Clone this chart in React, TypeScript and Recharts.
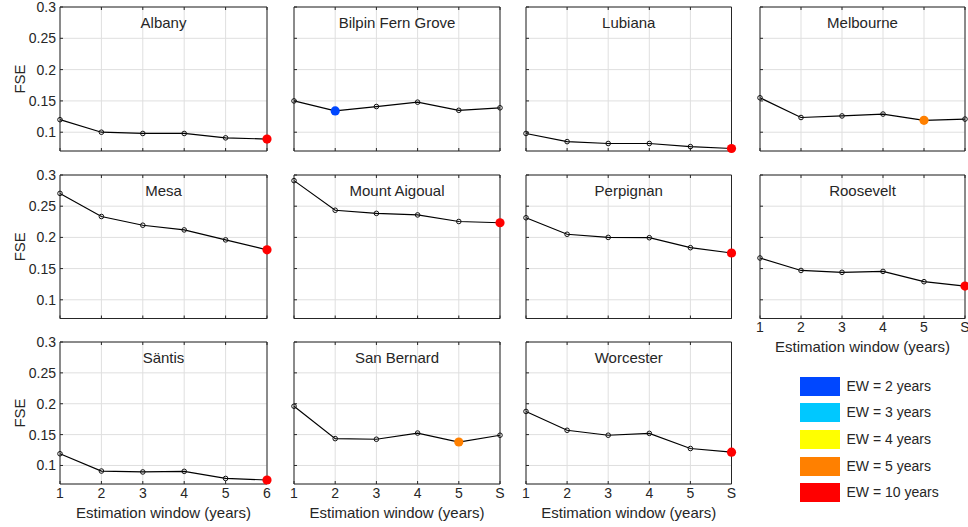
import React from 'react';
import { LineChart, Line, XAxis, YAxis, CartesianGrid, Label } from 'recharts';

// ---------- data ----------
const windows = [1, 2, 3, 4, 5, 6];
const xTickLabels = ['1', '2', '3', '4', '5', 'S'];
const santisTickLabels = ['1', '2', '3', '4', '5', '6'];
const yTicks = [0.1, 0.15, 0.2, 0.25, 0.3];

const albany = [0.12, 0.1, 0.098, 0.098, 0.091, 0.089];
const bilpin = [0.15, 0.134, 0.141, 0.148, 0.135, 0.139];
const lubiana = [0.098, 0.085, 0.082, 0.082, 0.077, 0.074];
const melbourne = [0.155, 0.1235, 0.126, 0.129, 0.119, 0.121];
const mesa = [0.2705, 0.2335, 0.2195, 0.212, 0.196, 0.18];
const mountAigoual = [0.291, 0.2435, 0.2385, 0.236, 0.2255, 0.2235];
const perpignan = [0.2315, 0.205, 0.2, 0.1995, 0.1835, 0.175];
const roosevelt = [0.167, 0.147, 0.144, 0.1455, 0.129, 0.122];
const santis = [0.119, 0.091, 0.0895, 0.0905, 0.079, 0.0765];
const sanBernard = [0.196, 0.1435, 0.1425, 0.1525, 0.138, 0.149];
const worcester = [0.1875, 0.157, 0.149, 0.152, 0.1275, 0.1215];

const stationNames = [
  'Albany', 'Bilpin Fern Grove', 'Lubiana', 'Melbourne',
  'Mesa', 'Mount Aigoual', 'Perpignan', 'Roosevelt',
  'Säntis', 'San Bernard', 'Worcester',
];
const stationValues = [
  albany, bilpin, lubiana, melbourne,
  mesa, mountAigoual, perpignan, roosevelt,
  santis, sanBernard, worcester,
];
// index of the best estimation window and its EW colour class
const bestIndex = [5, 1, 5, 4, 5, 5, 5, 5, 5, 4, 5];
const bestClass = [4, 0, 4, 3, 4, 4, 4, 4, 4, 3, 4];

const ewLabels = ['EW = 2 years', 'EW = 3 years', 'EW = 4 years', 'EW = 5 years', 'EW = 10 years'];
const ewColors = ['#0047ff', '#00c8ff', '#ffff00', '#ff8000', '#ff0000'];

// ---------- layout ----------
const colLeft = [59.5, 293.5, 526, 759.5];
const colWidth = [207, 206, 205.5, 205];
const rowTop = [7, 175, 342];
const rowHeight = [144, 143.5, 142];

const FONT = '"Liberation Sans", Arial, Helvetica, sans-serif';
const TEXT = '#262626';
const AXIS = '#262626';
const GRID = '#dfdfdf';

type PanelProps = {
  idx: number;
  row: number;
  col: number;
  showX: boolean;
  showY: boolean;
  xLabels: string[];
};

function Panel({ idx, row, col, showX, showY, xLabels }: PanelProps) {
  const W = colWidth[col];
  const H = rowHeight[row];
  const values = stationValues[idx];
  const data = windows.map((w, i) => ({ w, v: values[i] }));
  const best = bestIndex[idx];
  const color = ewColors[bestClass[idx]];
  const name = stationNames[idx];

  const renderDot = (p: any) => {
    const { cx, cy, index } = p;
    if (index === best) {
      return <circle key={`d${index}`} cx={cx} cy={cy} r={4.6} fill={color} stroke="none" />;
    }
    return (
      <circle key={`d${index}`} cx={cx} cy={cy} r={2.3} fill="none" stroke="#111" strokeWidth={1} />
    );
  };

  const axisCommon = {
    axisLine: { stroke: AXIS, strokeWidth: 1 },
    tickLine: { stroke: AXIS, strokeWidth: 1 },
    tickSize: -3,
    tickMargin: 7,
  };

  return (
    <div style={{ position: 'absolute', left: colLeft[col] - 60, top: rowTop[row] - 10 }}>
      <LineChart
        width={W + 70}
        height={H + 60}
        data={data}
        margin={{ top: 9, right: 9, left: 0, bottom: 0 }}
      >
        <CartesianGrid stroke={GRID} strokeWidth={1} />
        <XAxis
          dataKey="w"
          type="number"
          domain={[1, 6]}
          ticks={windows}
          interval={0}
          height={50}
          tickFormatter={(v: number) => (showX ? xLabels[v - 1] : '')}
          tick={{ fill: TEXT, fontSize: 14, fontFamily: FONT }}
          {...axisCommon}
        >
          {showX && (
            <Label
              content={(p: any) => {
                const vb = p.viewBox;
                return (
                  <text
                    x={vb.x + vb.width / 2}
                    y={vb.y + 33.5}
                    textAnchor="middle"
                    fill={TEXT}
                    fontSize={15}
                    fontFamily={FONT}
                  >
                    Estimation window (years)
                  </text>
                );
              }}
            />
          )}
        </XAxis>
        <XAxis
          xAxisId="top"
          orientation="top"
          type="number"
          domain={[1, 6]}
          ticks={windows}
          interval={0}
          height={1}
          tickFormatter={() => ''}
          {...axisCommon}
        />
        <YAxis
          type="number"
          domain={[0.07, 0.3]}
          ticks={yTicks}
          interval={0}
          width={60}
          tickFormatter={(v: number) => (showY ? String(v) : '')}
          tick={{ fill: TEXT, fontSize: 14, fontFamily: FONT }}
          {...axisCommon}
        >
          <Label
            content={(p: any) => {
              const vb = p.viewBox;
              const cx = vb.x + 19;
              const cy = vb.y + vb.height / 2;
              return (
                <g>
                  {showY && (
                    <text
                      x={cx}
                      y={cy}
                      transform={`rotate(-90, ${cx}, ${cy})`}
                      textAnchor="middle"
                      dominantBaseline="central"
                      fill={TEXT}
                      fontSize={15}
                      fontFamily={FONT}
                    >
                      FSE
                    </text>
                  )}
                  <text
                    x={vb.x + vb.width + W / 2}
                    y={vb.y + 20.6}
                    textAnchor="middle"
                    fill={TEXT}
                    fontSize={15}
                    fontFamily={FONT}
                  >
                    {name}
                  </text>
                </g>
              );
            }}
          />
        </YAxis>
        <YAxis
          yAxisId="right"
          orientation="right"
          type="number"
          domain={[0.07, 0.3]}
          ticks={yTicks}
          interval={0}
          width={1}
          tickFormatter={() => ''}
          {...axisCommon}
        />
        <Line
          dataKey="v"
          stroke="#000"
          strokeWidth={1.2}
          dot={renderDot}
          activeDot={false}
          isAnimationActive={false}
        />
      </LineChart>
    </div>
  );
}

const legendTop = [376.6, 403.3, 430, 456.8, 483.3];

export default function App() {
  const panels: PanelProps[] = [];
  stationNames.forEach((_, i) => {
    const row = Math.floor(i / 4);
    const col = i % 4;
    const showX = row === 2 || (row === 1 && col === 3);
    panels.push({
      idx: i,
      row,
      col,
      showX,
      showY: col === 0,
      xLabels: i === 8 ? santisTickLabels : xTickLabels,
    });
  });

  return (
    <div
      style={{
        position: 'absolute',
        left: 0,
        top: 0,
        width: 968,
        height: 527,
        background: '#fff',
        fontFamily: FONT,
        overflow: 'hidden',
      }}
    >
      {panels.map((p) => (
        <Panel key={p.idx} {...p} />
      ))}
      {ewLabels.map((lab, i) => (
        <React.Fragment key={lab}>
          <div
            style={{
              position: 'absolute',
              left: 800,
              top: legendTop[i],
              width: 40,
              height: 19,
              background: ewColors[i],
            }}
          />
          <div
            style={{
              position: 'absolute',
              left: 846.5,
              top: legendTop[i],
              height: 19,
              lineHeight: '19px',
              fontSize: 14,
              color: TEXT,
              whiteSpace: 'nowrap',
            }}
          >
            {lab}
          </div>
        </React.Fragment>
      ))}
    </div>
  );
}
